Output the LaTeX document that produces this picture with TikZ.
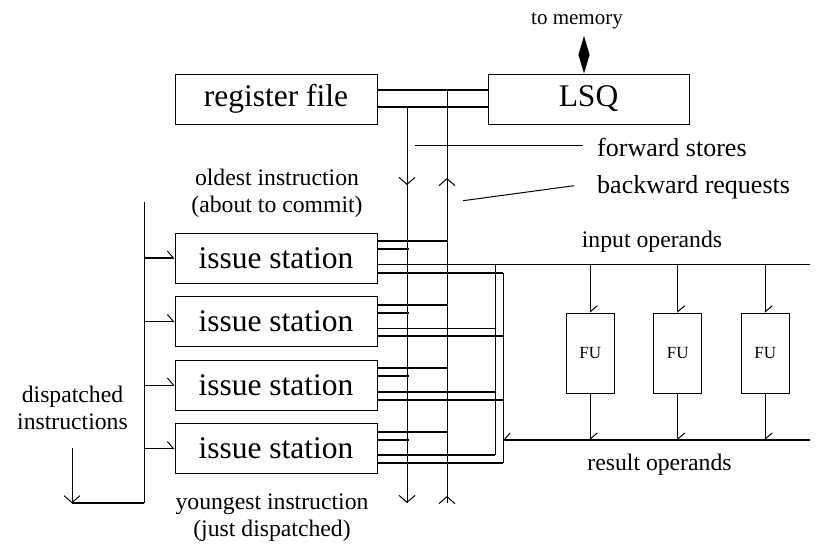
\documentclass[tikz,border=0pt]{standalone}
\usepackage{fontspec}
\setmainfont{Liberation Serif}
\usetikzlibrary{arrows.meta,decorations.markings,calc}

\begin{document}
\begin{tikzpicture}[x=1pt,y=-1pt,
  unit/.style={draw, line width=1pt, minimum width=202pt, minimum height=50pt,
    inner sep=0pt, font=\fontsize{31.5}{36}\selectfont},
  fubox/.style={draw, line width=1pt, minimum width=48pt, minimum height=80pt,
    inner sep=0pt, font=\fontsize{17}{20}\selectfont},
  lbl/.style={align=center, inner sep=0pt, font=\fontsize{23.7}{27}\selectfont},
  mlbl/.style={anchor=west, inner sep=0pt, font=\fontsize{26}{30}\selectfont},
  wire/.style={line width=1pt},
  bus/.style={line width=2pt},
  harp/.style={-{Straight Barb[left,length=6pt,width=14pt,line width=1pt]}},
  rharp/.style={-{Straight Barb[right,length=6pt,width=14pt,line width=1pt]}},
  vtip/.style={-{Straight Barb[length=7pt,width=16pt,line width=1pt]}},
  vmark/.style={postaction={decorate, decoration={markings,
    mark=at position #1 with {\arrow{Straight Barb[length=7pt,width=16pt,line width=1pt]}}}}},
]
\useasboundingbox (0,0) rectangle (817,546);

% register file and load/store queue
\node[unit] (reg) at (276,99) {register file};
\node[unit, minimum width=201pt] (lsq) at (588.5,99) {LSQ};

% memory port
\node[inner sep=0pt, font=\fontsize{21}{24}\selectfont] (mem) at (577,21) {to memory};
\coordinate (memtop) at (584,36);
\draw[wire, {Triangle[length=19pt,width=11pt]}-{Triangle[length=19pt,width=11pt]}]
  (memtop) -- (memtop |- lsq.north);

% buses between register file and LSQ
\coordinate (b1) at (377,90);
\coordinate (b2) at (377,106.5);
\draw[bus] (b1) -- (b1 -| lsq.west);
\draw[bus] (b2) -- (b2 -| lsq.west);

% forward (down) and backward (up) vertical lines
\coordinate (dtop) at (407,106.5);
\coordinate (dbot) at (407,503);
\coordinate (utop) at (447,90);
\coordinate (ubot) at (447,503);
\draw[wire, vmark=78.5pt, vmark=1] (dtop) -- (dbot);
\draw[wire, vmark=7pt, vmark=325pt] (ubot) -- (utop);

% leaders for the two labels
\node[mlbl] (fwd) at (597,147) {forward stores};
\node[mlbl] (bwd) at (597,187) {backward requests};
\coordinate (fwdstart) at (415,145);
\coordinate (fwdend) at (583,145);
\draw[wire] (fwdstart) -- (fwdend);
\coordinate (bwdstart) at (463,200.7);
\coordinate (bwdend) at (574,185.7);
\draw[wire] (bwdstart) -- (bwdend);

% operand columns
\coordinate (opin) at (495,0);
\coordinate (opout) at (503,0);
\coordinate (rend) at (810,0);

% issue stations
\foreach \i/\t/\w in {1/233/wire,2/296.5/wire,3/360/bus,4/423.5/bus}{
  \node[unit] (is\i) at (276,\t+25) {issue station};
  \coordinate (a\i) at ($(is\i.north east)+(0,8.5)$);
  \coordinate (c\i) at ($(is\i.north east)+(0,16.5)$);
  \coordinate (e\i) at ($(is\i.north east)+(0,32.3)$);
  \coordinate (f\i) at ($(is\i.north east)+(0,40.3)$);
  \draw[bus] (a\i) -- (a\i -| utop);
  \draw[bus] (c\i) -- ($(c\i -| dtop)+(1.5,0)$);
  \draw[\w] (e\i) -- (e\i -| opin);
  \draw[bus] (f\i) -- (f\i -| opout);
}
\draw[wire] (e1 -| opin) -- (e1 -| rend);
\draw[wire] (e1 -| opin) -- (e4 -| opin);
\draw[wire] (f1 -| opout) -- (f4 -| opout);

% functional units
\coordinate (res) at (503,440);
\draw[bus, rharp] (res -| rend) -- (res);
\foreach \j/\x in {1/590.3,2/677.8,3/765.3}{
  \node[fubox] (fu\j) at (\x,353.3) {FU};
  \draw[wire, harp] (fu\j.north |- e1) -- (fu\j.north);
  \draw[wire, harp] (fu\j.south) -- (fu\j.south |- res);
}
\node[lbl] (inops) at (652,242) {input operands};
\node[lbl] (resops) at (659.5,465) {result operands};

% dispatch path
\coordinate (dtopL) at (144,201.7);
\coordinate (dbotL) at (144,503.3);
\coordinate (dcorner) at (72,503.3);
\coordinate (dstart) at (72,448.3);
\draw[wire] (dtopL) -- (dbotL);
\draw[bus] (dbotL) -- (dcorner);
\draw[wire, vtip] (dstart) -- (dcorner);
\draw[bus, harp] (is1.west -| dtopL) -- (is1.west);
\foreach \i in {2,3,4}{
  \draw[wire, harp] (is\i.west -| dtopL) -- (is\i.west);
}
\node[lbl] (disp) at (72.5,408) {dispatched\\instructions};

% position labels
\node[lbl] (oldest) at (277,193) {oldest instruction\\(about to commit)};
\node[lbl] (youngest) at (272,518) {youngest instruction\\(just dispatched)};
\end{tikzpicture}
\end{document}
